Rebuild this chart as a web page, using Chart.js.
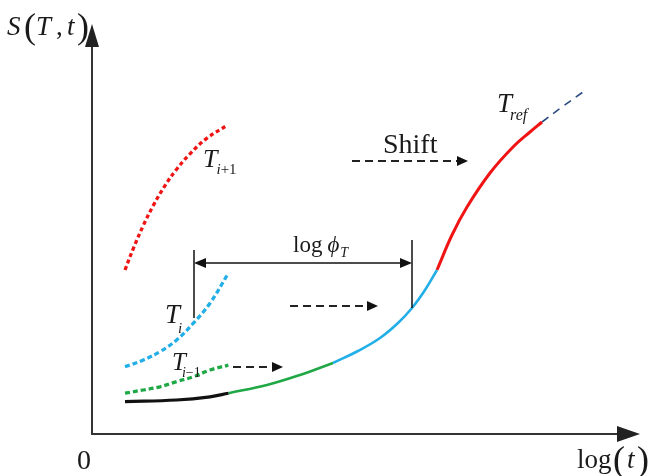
<!DOCTYPE html>
<html><head><meta charset="utf-8">
<script src="https://cdn.jsdelivr.net/npm/chart.js@4/dist/chart.umd.min.js"></script>
<style>html,body{margin:0;padding:0;background:#fff;overflow:hidden}</style>
</head><body>
<canvas id="c" width="651" height="476"></canvas>
<script>
// ---- data: log(t) positions and S(T,t) values (arbitrary units) ----
const refBlackX = [6.6, 16.9, 23.6, 27.3];
const refBlackY = [8.1, 8.5, 9.3, 10.2];
const refGreenX = [27.3, 35, 41.6, 48.2];
const refGreenY = [10.2, 12.25, 14.75, 17.75];
const refBlueX  = [48.2, 53.2, 57.6, 61.2, 64, 66.6, 69];
const refBlueY  = [17.75, 20.75, 24, 27.75, 31.5, 36, 41];
const refRedX   = [69, 72, 75, 79.6, 84.2, 87.6, 90];
const refRedY   = [41, 49.75, 56.75, 65.25, 71.75, 75.5, 78];
const refExtX   = [90, 94, 98.2];
const refExtY   = [78, 81.75, 85.5];
const tIp1X = [6.6, 8.27, 10.27, 12.27, 14.6, 16.93, 19.6, 22.93, 26.93];
const tIp1Y = [41, 46.4, 52.15, 57.15, 62.1, 66.2, 70.05, 73.9, 77.1];
const tIX   = [6.6, 10.27, 13.6, 16.93, 20.27, 23.6, 27.27];
const tIY   = [16.8, 18.5, 20.6, 23.5, 27.7, 32.7, 40.2];
const tIm1X = [6.6, 10.27, 13.6, 16.93, 20.27, 23.6, 27.27];
const tIm1Y = [10.2, 11, 11.8, 13.1, 14.3, 16, 17.2];
const shiftArrowX1 = [28.2, 39.6, 52];
const shiftArrowX2 = [38.2, 57.2, 75.2];
const shiftArrowY  = [16.75, 32, 68.25];
const phiStartX = 20.4, phiEndX = 64, phiY = 42.75;

const pts = (xs, ys) => xs.map((x, i) => ({x, y: ys[i]}));

function line(label, xs, ys, color, width, dash) {
  return {label, data: pts(xs, ys), showLine: true, borderColor: color, backgroundColor: color,
    borderWidth: width, borderDash: dash || [], pointRadius: 0, tension: 0.4,
    borderCapStyle: 'butt', fill: false};
}

const RED = '#f01414', BLUE = '#22aee6', GREEN = '#1fa845', INK = '#1a1a1a';

const SERIF = '"Liberation Serif", "Times New Roman", serif';

function rich(ctx, x, y, parts) {
  let cx = x;
  for (const p of parts) {
    ctx.font = (p.it ? 'italic ' : '') + p.size + 'px ' + SERIF;
    const px = (p.ox !== undefined) ? x + p.ox : cx + (p.dx || 0);
    ctx.fillText(p.t, px, y + (p.dy || 0));
    cx = px + ctx.measureText(p.t).width;
  }
}

function head(ctx, x, y, dx, dy, len, half) {
  const nx = -dy, ny = dx;
  ctx.beginPath();
  ctx.moveTo(x, y);
  ctx.lineTo(x - dx * len + nx * half, y - dy * len + ny * half);
  ctx.lineTo(x - dx * len - nx * half, y - dy * len - ny * half);
  ctx.closePath();
  ctx.fill();
}

const overlay = {
  id: 'overlay',
  afterDatasetsDraw(chart) {
    const ctx = chart.ctx;
    const X = v => chart.scales.x.getPixelForValue(v);
    const Y = v => chart.scales.y.getPixelForValue(v);
    ctx.save();
    // axes
    ctx.strokeStyle = '#333'; ctx.fillStyle = '#222'; ctx.lineWidth = 2; ctx.setLineDash([]);
    const ox = X(0), oy = Y(0), xt = X(109.6), yt = Y(102.5);
    ctx.beginPath(); ctx.moveTo(ox, oy); ctx.lineTo(xt - 20, oy); ctx.stroke();
    ctx.beginPath(); ctx.moveTo(ox, oy + 1); ctx.lineTo(ox, yt + 20); ctx.stroke();
    head(ctx, xt, oy, 1, 0, 23, 8);
    head(ctx, ox, yt, 0, -1, 23, 7);

    // dashed shift arrows
    ctx.strokeStyle = '#222'; ctx.fillStyle = '#111'; ctx.lineWidth = 2;
    for (let i = 0; i < shiftArrowX1.length; i++) {
      const y = Y(shiftArrowY[i]), x1 = X(shiftArrowX1[i]), x2 = X(shiftArrowX2[i]);
      ctx.setLineDash([8, 5]);
      ctx.beginPath(); ctx.moveTo(x1, y); ctx.lineTo(x2 - 10, y); ctx.stroke();
      ctx.setLineDash([]);
      head(ctx, x2, y, 1, 0, 11, 5);
    }

    // log phi_T double arrow and guide lines
    ctx.setLineDash([]); ctx.lineWidth = 1.5; ctx.strokeStyle = '#111';
    const ay = Y(phiY), ax1 = X(phiStartX), ax2 = X(phiEndX);
    ctx.beginPath(); ctx.moveTo(ax1 + 8, ay); ctx.lineTo(ax2 - 8, ay); ctx.stroke();
    head(ctx, ax1, ay, -1, 0, 12, 5);
    head(ctx, ax2, ay, 1, 0, 12, 5);
    ctx.beginPath(); ctx.moveTo(ax1, Y(46)); ctx.lineTo(ax1, Y(29)); ctx.stroke();
    ctx.beginPath(); ctx.moveTo(ax2, Y(48.5)); ctx.lineTo(ax2, Y(31.5)); ctx.stroke();

    // labels
    ctx.fillStyle = INK; ctx.textBaseline = 'alphabetic'; ctx.textAlign = 'left';
    rich(ctx, X(-17), Y(99.75), [
      {t: 'S', it: true, size: 27, ox: 0},
      {t: '(', size: 36, ox: 17, dy: 3},
      {t: 'T', it: true, size: 27, ox: 29},
      {t: ',', size: 27, ox: 49},
      {t: 't', it: true, size: 27, ox: 60},
      {t: ')', size: 36, ox: 70, dy: 3}
    ]);
    rich(ctx, X(22.2), Y(66.75), [
      {t: 'T', it: true, size: 26},
      {t: 'i', it: true, size: 15, dy: 7, dx: -1},
      {t: '+1', size: 15, dy: 7}
    ]);
    rich(ctx, X(14.6), Y(27.75), [
      {t: 'T', it: true, size: 27},
      {t: 'i', it: true, size: 15, dy: 10, dx: -2}
    ]);
    rich(ctx, X(16), Y(16), [
      {t: 'T', it: true, size: 25},
      {t: 'i', it: true, size: 14, dy: 7, dx: -4},
      {t: '\u22121', size: 14, dy: 7}
    ]);
    rich(ctx, X(40.2), Y(45.5), [
      {t: 'log', size: 23},
      {t: '\u03d5', it: true, size: 23, dx: 5},
      {t: 'T', it: true, size: 14, dy: 5, dx: 1}
    ]);
    rich(ctx, X(58.2), Y(70.25), [{t: 'Shift', size: 28}]);
    rich(ctx, X(81), Y(80.5), [
      {t: 'T', it: true, size: 27},
      {t: 'ref', it: true, size: 16, dy: 8, dx: -2}
    ]);
    rich(ctx, X(-3), Y(-8.75), [{t: '0', size: 28}]);
    rich(ctx, X(97), Y(-8.5), [
      {t: 'log', size: 27, ox: 0},
      {t: '(', size: 36, ox: 36, dy: 3},
      {t: 't', it: true, size: 27, ox: 50},
      {t: ')', size: 36, ox: 60, dy: 3}
    ]);
    ctx.restore();
  }
};

new Chart(document.getElementById('c'), {
  type: 'scatter',
  data: {
    datasets: [
      line('T_ref (black)', refBlackX, refBlackY, '#111', 3.2),
      line('T_ref (green)', refGreenX, refGreenY, GREEN, 2.6),
      line('T_ref (blue)', refBlueX, refBlueY, BLUE, 2.6),
      line('T_ref (red)', refRedX, refRedY, RED, 3),
      line('T_ref extension', refExtX, refExtY, '#2a4a80', 1.6, [8, 6]),
      line('T_i+1', tIp1X, tIp1Y, RED, 3.3, [4, 3]),
      line('T_i', tIX, tIY, BLUE, 3.3, [5, 3]),
      line('T_i-1', tIm1X, tIm1Y, GREEN, 3.3, [5, 3])
    ]
  },
  options: {
    responsive: false, animation: false, devicePixelRatio: 1,
    layout: {padding: {left: 92, right: 9, top: 26, bottom: 42}},
    plugins: {legend: {display: false}, tooltip: {enabled: false}},
    scales: {
      x: {type: 'linear', min: 0, max: 110, display: false},
      y: {type: 'linear', min: 0, max: 102, display: false}
    }
  },
  plugins: [overlay]
});
</script>
</body></html>
